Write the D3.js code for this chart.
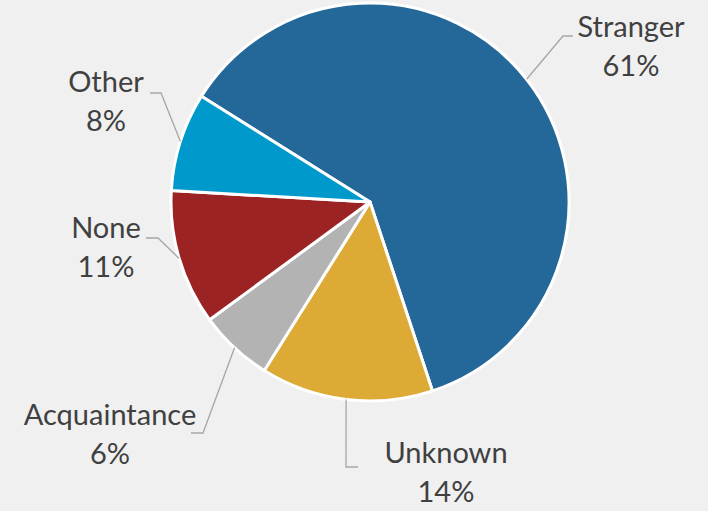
<!DOCTYPE html>
<html>
<head>
<meta charset="utf-8">
<script src="https://cdn.jsdelivr.net/npm/d3@7"></script>
<style>
  body { margin: 0; background: #f0f0f0; }
  svg { display: block; }
</style>
</head>
<body>
<svg id="chart" width="708" height="511"></svg>
<script>
let categories = ["Stranger", "Unknown", "Acquaintance", "None", "Other"];
let shares = [61, 14, 6, 11, 8];
let colors = ["#236898", "#dcaa35", "#b3b3b3", "#9b2323", "#0099cc"];

// where excel dropped the labels (text centre, first baseline) and the elbow of each leader
let labelLayout = [
  { x: 631, y: 37, elbow: [563, 36], end: [573, 36] },
  { x: 446, y: 463, elbow: [346, 467], end: [358, 467] },
  { x: 110, y: 425, elbow: [203, 433], end: [191, 433] },
  { x: 106, y: 238, elbow: [158, 238], end: [146, 238] },
  { x: 106, y: 92, elbow: [161, 93], end: [150, 93] }
];

let svg = d3.select("#chart");
let center = { x: 370, y: 202 };
let radius = 199;

let data = categories.map((c, i) => ({ name: c, value: shares[i], color: colors[i], label: labelLayout[i] }));

let pie = d3.pie()
  .value(d => d.value)
  .sort(null)
  .startAngle(-57.9 * Math.PI / 180)
  .endAngle((360 - 57.9) * Math.PI / 180);

let arc = d3.arc().innerRadius(0).outerRadius(radius);
let edgeArc = d3.arc().innerRadius(radius).outerRadius(radius);

let arcs = pie(data);

let slices = svg
  .append("g")
  .attr("transform", `translate(${center.x}, ${center.y})`)
  .attr("class", "slices");

slices.selectAll("path")
  .data(arcs)
  .enter()
  .append("path")
  .attr("d", arc)
  .attr("fill", d => d.data.color)
  .attr("stroke", "#ffffff")
  .attr("stroke-width", 3)
  .attr("stroke-linejoin", "round");

let leaders = svg.append("g").attr("class", "leaders");

leaders.selectAll("polyline")
  .data(arcs)
  .enter()
  .append("polyline")
  .attr("points", d => {
    let c = edgeArc.centroid(d);
    let start = [c[0] + center.x, c[1] + center.y];
    return [start, d.data.label.elbow, d.data.label.end].map(p => p.join(",")).join(" ");
  })
  .attr("fill", "none")
  .attr("stroke", "#a6a6a6")
  .attr("stroke-width", 1.3);

let labels = svg.append("g").attr("class", "labels");

let texts = labels.selectAll("text")
  .data(arcs)
  .enter()
  .append("text")
  .attr("text-anchor", "middle")
  .attr("fill", "#404040")
  .attr("font-family", "Lato, 'Open Sans', sans-serif")
  .attr("font-size", 29);

texts.append("tspan")
  .attr("x", d => d.data.label.x)
  .attr("y", d => d.data.label.y)
  .text(d => d.data.name);

texts.append("tspan")
  .attr("x", d => d.data.label.x)
  .attr("y", d => d.data.label.y + 39)
  .text(d => d.data.value + "%");
</script>
</body>
</html>
